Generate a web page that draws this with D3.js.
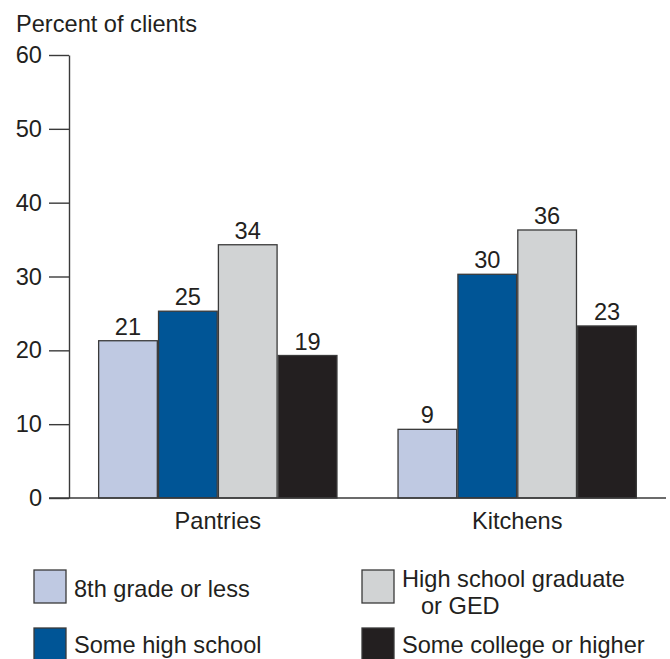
<!DOCTYPE html>
<html>
<head>
<meta charset="utf-8">
<script src="https://cdn.jsdelivr.net/npm/d3@7"></script>
<style>
  html, body { margin: 0; padding: 0; background: #fff; }
  svg { display: block; font-family: "Liberation Sans", Arial, sans-serif; }
</style>
</head>
<body>
<svg id="chart" width="670" height="659"></svg>
<script>
const categories = ["Pantries", "Kitchens"];
const seriesNames = ["8th grade or less", "Some high school", "High school graduate or GED", "Some college or higher"];
const seriesColors = ["#bfc9e2", "#005596", "#d1d3d4", "#231f20"];
const pantriesValues = [21.3, 25.3, 34.3, 19.3];
const kitchensValues = [9.3, 30.3, 36.3, 23.3];
const valueLabels = [["21", "25", "34", "19"], ["9", "30", "36", "23"]];
const yTicks = [0, 10, 20, 30, 40, 50, 60];
const yTitle = "Percent of clients";

const data = [pantriesValues, kitchensValues];
const svg = d3.select("#chart");
const textColor = "#231f20";
const lineColor = "#3a3a3a";
const fs = 23.6;

const y = d3.scaleLinear().domain([0, 60]).range([498, 55]);
const x0 = d3.scaleBand().domain(categories).range([69, 666]).paddingInner(0.2).paddingOuter(0.097);
const x1 = d3.scaleBand().domain(d3.range(seriesNames.length)).range([0, x0.bandwidth()]);

// title
svg.append("text").attr("x", 16).attr("y", 32).attr("font-size", fs).attr("fill", textColor).text(yTitle);

// y axis
const yAxis = d3.axisLeft(y).tickValues(yTicks).tickSize(20).tickPadding(7).tickSizeOuter(0);
const gy = svg.append("g").attr("transform", "translate(69,0)").call(yAxis);
gy.select(".domain").attr("stroke", lineColor).attr("stroke-width", 1.4);
gy.selectAll(".tick line").attr("stroke", lineColor).attr("stroke-width", 1.4);
gy.selectAll(".tick text").attr("font-size", fs).attr("fill", textColor).attr("font-family", "Liberation Sans, Arial, sans-serif");

// bars
const groups = svg.append("g").selectAll("g").data(categories).join("g")
  .attr("transform", d => `translate(${x0(d)},0)`);
groups.each(function(cat, ci) {
  const g = d3.select(this);
  const vals = data[ci];
  g.selectAll("rect").data(vals).join("rect")
    .attr("x", (d, i) => x1(i) + 0.6)
    .attr("width", x1.bandwidth() - 1.2)
    .attr("y", d => y(d))
    .attr("height", d => y(0) - y(d))
    .attr("fill", (d, i) => seriesColors[i])
    .attr("stroke", lineColor)
    .attr("stroke-width", 1.3);
  g.selectAll("text").data(vals).join("text")
    .attr("x", (d, i) => x1(i) + x1.bandwidth() / 2)
    .attr("y", d => y(d) - 6)
    .attr("text-anchor", "middle")
    .attr("font-size", fs)
    .attr("fill", textColor)
    .text((d, i) => valueLabels[ci][i]);
});

// x baseline
const xAxis = d3.axisBottom(x0).tickSize(0).tickPadding(14);
const gx = svg.append("g").attr("transform", `translate(0,${y(0)})`).call(xAxis);
gx.select(".domain").remove();
gx.append("line").attr("x1", 49).attr("x2", 666).attr("y1", 0).attr("y2", 0)
  .attr("stroke", lineColor).attr("stroke-width", 1.4);
gx.selectAll(".tick text").attr("font-size", fs).attr("fill", textColor)
  .attr("font-family", "Liberation Sans, Arial, sans-serif").attr("dy", "0.71em");

// legend
const legendPos = [
  { x: 34, y: 570, lines: ["8th grade or less"], tx: 74, ty: [597] },
  { x: 34, y: 628, lines: ["Some high school"], tx: 74, ty: [653] },
  { x: 362, y: 570, lines: ["High school graduate", "or GED"], tx: [402, 421], ty: [587, 614] },
  { x: 362, y: 628, lines: ["Some college or higher"], tx: 402, ty: [653] }
];
const legend = svg.append("g");
legendPos.forEach((p, i) => {
  legend.append("rect").attr("x", p.x).attr("y", p.y).attr("width", 32).attr("height", 33)
    .attr("fill", seriesColors[i]).attr("stroke", lineColor).attr("stroke-width", 1.3);
  p.lines.forEach((ln, j) => {
    const tx = Array.isArray(p.tx) ? p.tx[j] : p.tx;
    legend.append("text").attr("x", tx).attr("y", p.ty[j]).attr("font-size", fs)
      .attr("fill", textColor).text(ln);
  });
});
</script>
</body>
</html>
